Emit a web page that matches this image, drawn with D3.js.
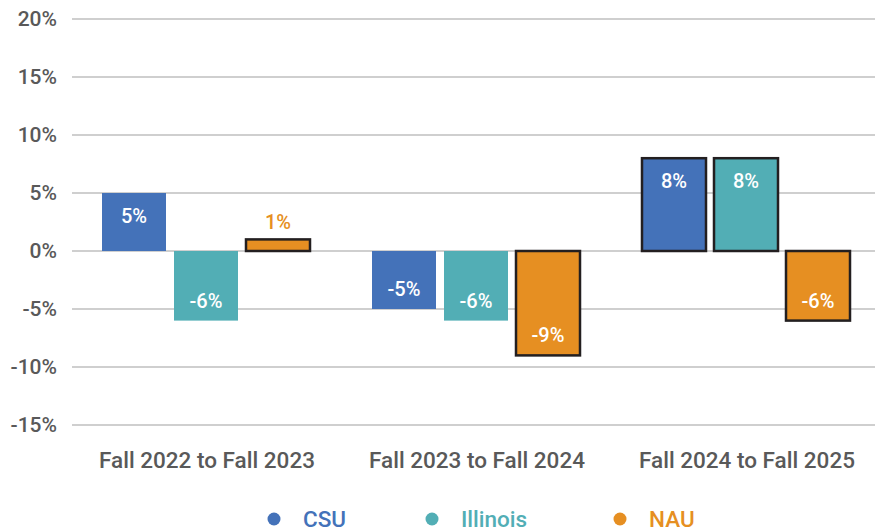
<!DOCTYPE html>
<html>
<head>
<meta charset="utf-8">
<script src="https://cdn.jsdelivr.net/npm/d3@7"></script>
<style>
  body { margin: 0; background: #fff; }
  svg { font-family: Roboto, "Noto Sans", sans-serif; }
</style>
</head>
<body>
<div id="chart"></div>
<script>
var periods = ["Fall 2022 to Fall 2023", "Fall 2023 to Fall 2024", "Fall 2024 to Fall 2025"];
var schools = ["CSU", "Illinois", "NAU"];
var csu = [5, -5, 8];
var illinois = [-6, -6, 8];
var nau = [1, -9, -6];
var outlined = [[false, false, true], [false, false, true], [true, true, true]];
var yTicks = [-15, -10, -5, 0, 5, 10, 15, 20];
var colors = ["#4472b9", "#52aeb5", "#e68f22"];

var width = 875, height = 531;
var margin = {top: 19, right: -7, bottom: 106, left: 72};

var series = [csu, illinois, nau];
var data = [];
periods.forEach(function(p, i) {
    schools.forEach(function(s, j) {
        data.push({period: p, school: s, value: series[j][i], outline: outlined[i][j]});
    });
});

var svg = d3.select("#chart").append("svg")
    .attr("width", width)
    .attr("height", height);

var x = d3.scaleBand().domain(periods)
    .range([margin.left, width - margin.right])
    .paddingInner(0).paddingOuter(0);
var y = d3.scaleLinear().domain([-15, 20])
    .range([height - margin.bottom, margin.top]);

var xs = d3.scaleBand().domain(schools)
    .range([30, 30 + 208])
    .paddingInner(8 / 72).paddingOuter(0);

// gridlines
svg.append("g")
    .selectAll("line")
    .data(yTicks)
    .enter().append("line")
    .attr("x1", margin.left)
    .attr("x2", width)
    .attr("y1", function(d) { return y(d); })
    .attr("y2", function(d) { return y(d); })
    .style("stroke", "#bfbfbf")
    .style("stroke-width", 1.5);

// y axis
var yAxis = svg.append("g")
    .attr("transform", "translate(" + margin.left + ",0)")
    .call(d3.axisLeft(y).tickValues(yTicks).tickSize(0).tickPadding(15)
        .tickFormat(function(d) { return d + "%"; }));
yAxis.select(".domain").remove();
yAxis.selectAll("text")
    .attr("font-size", 21)
    .attr("font-weight", 500)
    .attr("font-family", "Roboto, sans-serif")
    .attr("fill", "#595959");

// x axis
var xAxis = svg.append("g")
    .attr("transform", "translate(0," + (height - margin.bottom) + ")")
    .call(d3.axisBottom(x).tickSize(0).tickPadding(27));
xAxis.select(".domain").remove();
xAxis.selectAll("text")
    .attr("font-size", 22.5)
    .attr("font-weight", 500)
    .attr("font-family", "Roboto, sans-serif")
    .attr("fill", "#595959");

// bars
svg.append("g").selectAll("rect")
    .data(data)
    .enter().append("rect")
    .attr("x", function(d) { return x(d.period) + xs(d.school); })
    .attr("y", function(d) { return y(Math.max(0, d.value)); })
    .attr("width", xs.bandwidth())
    .attr("height", function(d) { return Math.abs(y(d.value) - y(0)); })
    .style("fill", function(d) { return colors[schools.indexOf(d.school)]; })
    .style("stroke", function(d) { return d.outline ? "#231f20" : "none"; })
    .style("stroke-width", 2.5);

// value labels
svg.append("g").selectAll("text")
    .data(data)
    .enter().append("text")
    .attr("x", function(d) { return x(d.period) + xs(d.school) + xs.bandwidth() / 2; })
    .attr("y", function(d) {
        var h = Math.abs(y(d.value) - y(0));
        if (h < 30) return y(d.value) - 10;
        return d.value > 0 ? y(d.value) + 30 : y(d.value) - 13;
    })
    .attr("text-anchor", "middle")
    .attr("font-size", 20)
    .attr("font-weight", 500)
    .attr("fill", function(d) {
        var h = Math.abs(y(d.value) - y(0));
        return h < 30 ? colors[schools.indexOf(d.school)] : "#fff";
    })
    .text(function(d) { return d.value + "%"; });

// legend
var legendX = [274, 432, 620];
var legend = svg.append("g").selectAll("g")
    .data(schools)
    .enter().append("g")
    .attr("transform", function(d, i) { return "translate(" + legendX[i] + ",519)"; });
legend.append("circle")
    .attr("r", 6.5)
    .style("fill", function(d, i) { return colors[i]; });
legend.append("text")
    .attr("x", 29)
    .attr("dy", "0.35em")
    .attr("font-size", 22.5)
    .attr("font-weight", 500)
    .attr("fill", function(d, i) { return colors[i]; })
    .text(function(d) { return d; });
</script>
</body>
</html>
